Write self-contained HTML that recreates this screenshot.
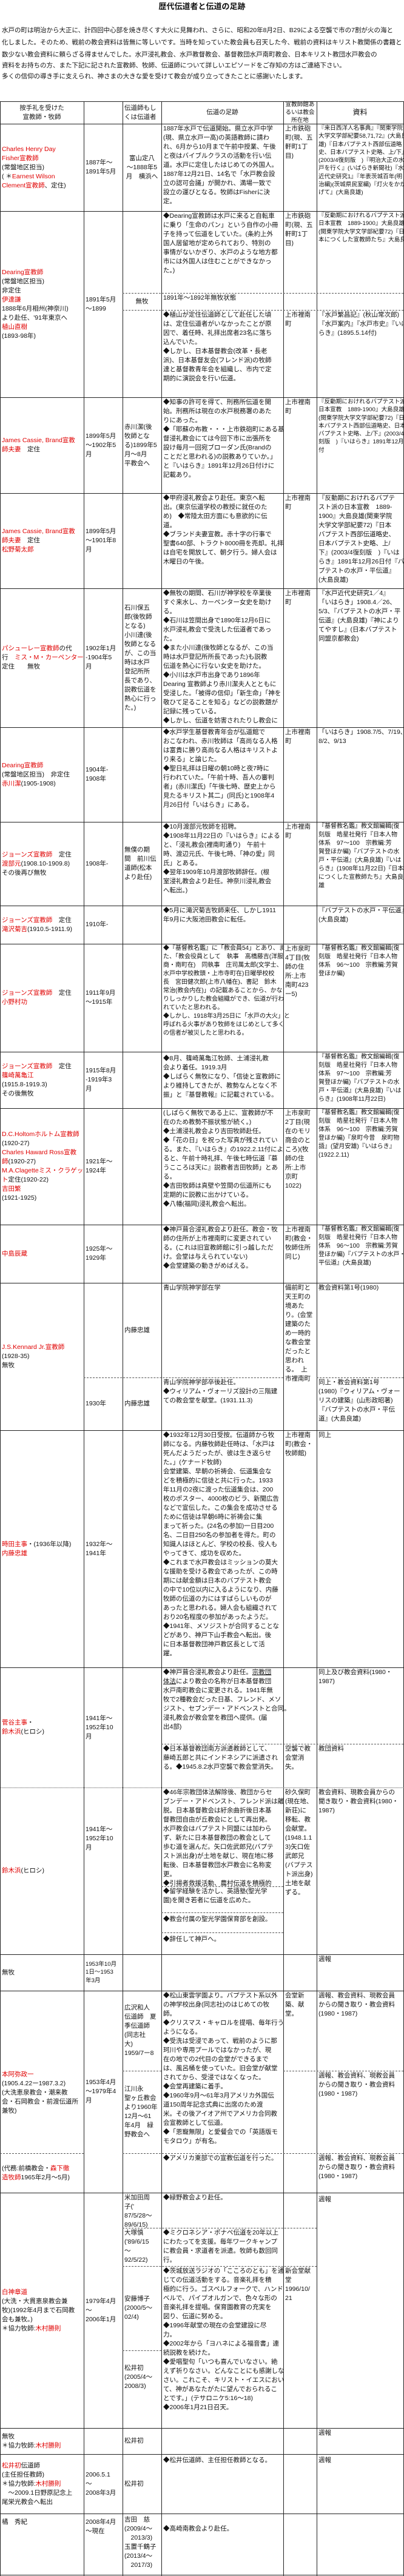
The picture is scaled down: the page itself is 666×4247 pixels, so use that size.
<!DOCTYPE html>
<html><head><meta charset="utf-8">
<style>
html,body{margin:0;padding:0;background:#fff}
body{width:666px;height:4247px;position:relative;overflow:hidden;font-family:"Liberation Sans","Noto Sans CJK JP",sans-serif;color:#111}
.c{position:absolute;display:flex;align-items:center;box-sizing:border-box;padding:1px 3px;white-space:nowrap;font-size:10.5px;line-height:15px;overflow:visible}
.c>div{width:100%}
.t{align-items:flex-start}
.s{font-size:9.6px;line-height:13.3px}
.m{font-size:10px;line-height:14px}
.k1{left:0;width:138px}.k2{left:138px;width:64px}.k3{left:202px;width:64px}.k4{left:266px;width:201px}.k5{left:467px;width:55px}.k6{left:522px;width:143px}
.r{color:#e00000}
.h{position:absolute;left:0;width:666px;height:0;border-top:1px solid #222}
.v{position:absolute;top:167px;height:4080px;width:0;border-left:1px solid #222}
.d{position:absolute;height:0;border-top:1px dashed #555}
.in{position:absolute;left:3px;font-size:10.5px;white-space:nowrap;line-height:14px}
</style></head><body>
<div style="position:absolute;left:0;width:666px;top:3px;text-align:center;font-size:13px;font-weight:bold;line-height:16px">歴代伝道者と伝道の足跡</div>
<div class="in" style="top:43px">水戸の町は明治から大正に、計四回中心部を焼き尽くす大火に見舞われ、さらに、昭和20年8月2日、B29による空襲で市の7割が火の海と</div>
<div class="in" style="top:63px">化しました。そのため、戦前の教会資料は皆無に等しいです。当時を知っていた教会員も召天した今、戦前の資料はキリスト教関係の書籍と</div>
<div class="in" style="top:83px">数少ない教会資料に頼らざる得ませんでした。水戸浸礼教会、水戸教督教会、基督教団水戸南町教会、日本キリスト教団水戸教会の</div>
<div class="in" style="top:101px">資料をお持ちの方、また下記に記された宣教師、牧師、伝道師について詳しいエピソードをご存知の方はご連絡下さい。</div>
<div class="in" style="top:119px">多くの信仰の導き手に支えられ、神さまの大きな愛を受けて教会が成り立ってきたことに感謝いたします。</div>

<!-- vertical lines -->
<div class="v" style="left:0"></div><div class="v" style="left:138px"></div><div class="v" style="left:202px"></div><div class="v" style="left:266px"></div><div class="v" style="left:467px"></div><div class="v" style="left:522px"></div><div class="v" style="left:665px"></div>
<!-- horizontal -->
<div class="h" style="top:167px"></div><div class="h" style="top:204px"></div><div class="h" style="top:348px"></div><div class="h" style="top:655px"></div><div class="h" style="top:813px"></div><div class="h" style="top:970px"></div><div class="h" style="top:1199px"></div><div class="h" style="top:1355px"></div><div class="h" style="top:1493px"></div><div class="h" style="top:1556px"></div><div class="h" style="top:1734px"></div><div class="h" style="top:1827px"></div><div class="h" style="top:2019px"></div><div class="h" style="top:2115px"></div><div class="h" style="top:2358px"></div><div class="h" style="top:2749px"></div><div class="h" style="top:2947px;border-top:1px dotted #555"></div><div class="h" style="top:3222px"></div><div class="h" style="top:3282px"></div><div class="h" style="top:3615px"></div><div class="h" style="top:4003px"></div><div class="h" style="top:4046px"></div><div class="h" style="top:4144px"></div><div class="h" style="top:4245px"></div>
<!-- dashed -->
<div class="d" style="top:483px;left:202px;width:463px"></div>
<div class="d" style="top:511px;left:202px;width:463px"></div>
<div class="d" style="top:2271px;left:138px;width:329px"></div>
<div class="d" style="top:2271px;left:522px;width:143px"></div>
<div class="d" style="top:2875px;left:266px;width:399px"></div>
<div class="d" style="top:3110px;left:266px;width:201px"></div>
<div class="d" style="top:3153px;left:266px;width:201px"></div>
<div class="d" style="top:3186px;left:266px;width:201px"></div>
<div class="d" style="top:3414px;left:202px;width:64px"></div>
<div class="d" style="top:3414px;left:467px;width:198px"></div>
<div class="d" style="top:3550px;left:0;width:138px"></div>
<div class="d" style="top:3550px;left:202px;width:463px"></div>
<div class="d" style="top:3673px;left:202px;width:320px"></div>
<div class="d" style="top:3736px;left:202px;width:320px"></div>
<div class="d" style="top:3875px;left:202px;width:64px"></div>

<!-- header -->
<div class="c k1" style="top:167px;height:37px;text-align:center"><div>按手礼を受けた<br>宣教師・牧師</div></div>
<div class="c k3" style="top:167px;height:37px"><div>伝道師もし<br>くは伝道者</div></div>
<div class="c k4" style="top:167px;height:37px;text-align:center"><div>伝道の足跡</div></div>
<div class="c k5 s" style="top:167px;height:37px;text-align:center"><div>宣教師館あ<br>るいは教会<br>所在地</div></div>
<div class="c k6" style="top:167px;height:37px;text-align:center;font-size:12px"><div>資料</div></div>

<!-- row1 -->
<div class="c k1" style="top:204px;height:144px"><div><span class="r">Charles Henry Day<br>Fisher宣教師</span><br>(常盤地区担当)<br>( ＊<span class="r">Earnest Wilson<br>Clement宣教師</span>、定住)</div></div>
<div class="c k2" style="top:204px;height:144px"><div>1887年～<br>1891年5月</div></div>
<div class="c k3" style="top:204px;height:144px;text-align:center"><div>富山定八<br>～1888年5<br>月　横浜へ</div></div>
<div class="c k4 t" style="top:204px;height:144px"><div>1887年水戸で伝道開始。県立水戸中学<br>(現、県立水戸一高)の英語教師に請わ<br>れ、6月から10月まで午前中授業、午後<br>と夜はバイブルクラスの活動を行い伝<br>道。水戸に定住したはじめての外国人。<br>1887年12月21日、14名で「水戸教会設<br>立の認可会議」が開かれ、満場一致で<br>設立の運びとなる。牧師はFisherに決<br>定。</div></div>
<div class="c k5 t" style="top:204px;height:144px"><div>上市鉄砲<br>町(現、五<br>軒町1丁<br>目)</div></div>
<div class="c k6 t s" style="top:204px;height:144px"><div>『来日西洋人名事典』『関東学院<br>大学文学部紀要58,71,72』(大島良<br>雄)『日本バプテスト西部伝道略<br>史、日本バプテスト史略、上/下』<br>(2003/4復刻版　)『明治大正の水<br>戸を行く』(いばらき新聞社)『水戸<br>近代史研究1』『年表茨城百年(明<br>治編)(茨城県民室編)『灯火をかか<br>げて』(大島良雄)</div></div>

<!-- row2 -->
<div class="c k1" style="top:348px;height:307px"><div><span class="r">Dearing宣教師</span><br>(常盤地区担当)<br>非定住<br><span class="r">伊達謙</span><br>1888年6月相州(神奈川)<br>より赴任、'91年東京へ<br><span class="r">植山直樹</span><br>(1893-98年)</div></div>
<div class="c k2" style="top:348px;height:307px"><div>1891年5月<br>～1899</div></div>
<div class="c k4 t" style="top:348px;height:135px"><div>◆Dearing宣教師は水戸に来ると自転車<br>に乗り「生命のパン」という自作の小冊<br>子を持って伝道をしていた。(条約上外<br>国人居留地が定められており、特別の<br>事情がないかぎり、水戸のような地方都<br>市には外国人は住むことができなかっ<br>た。)</div></div>
<div class="c k5 t" style="top:348px;height:135px"><div>上市鉄砲<br>町(現、五<br>軒町1丁<br>目)</div></div>
<div class="c k6 t s" style="top:348px;height:135px"><div>『反動期におけれるバプテスト派の<br>日本宣教　1889-1900』大島良雄<br>(関東学院大学文学部紀要72)『日<br>本につくした宣教師たち』大島良雄</div></div>
<div class="c k3" style="top:483px;height:28px;text-align:center"><div>無牧</div></div>
<div class="c k4 t" style="top:483px;height:28px"><div>1891年～1892年無牧状態</div></div>
<div class="c k4 t" style="top:511px;height:144px"><div>◆植山が定住伝道師として赴任した頃<br>は、定住伝道者がいなかったことが原<br>因で、着任時、礼拝出席者23名に落ち<br>込んでいた。<br>◆しかし、日本基督教会(改革・長老<br>派)、日本基督友会(フレンド派)の牧師<br>達と基督教青年会を組織し、市内で定<br>期的に演説会を行い伝道。</div></div>
<div class="c k5 t" style="top:511px;height:144px"><div>上市裡南<br>町</div></div>
<div class="c k6 t" style="top:511px;height:144px"><div>『水戸繁昌記』(秋山常次郎)<br>『水戸案内』『水戸市史』『いば<br>らき』(1895.5.14付)</div></div>

<!-- row3 -->
<div class="c k1" style="top:655px;height:158px"><div><span class="r">James Cassie, Brand宣教<br>師夫妻</span>　定住</div></div>
<div class="c k2" style="top:655px;height:158px"><div>1899年5月<br>～1902年5<br>月</div></div>
<div class="c k3" style="top:655px;height:158px"><div>赤川潔(後<br>牧師とな<br>る)1899年5<br>月～8月<br>平教会へ</div></div>
<div class="c k4 t" style="top:655px;height:158px"><div>◆知事の許可を得て、刑務所伝道を開<br>始。刑務所は現在の水戸税務署のあた<br>りにあった。<br>◆「耶蘇の布教・・・上市鉄砲町にある基<br>督浸礼教会にては今回下市に出張所を<br>設け毎月一回宛ブローダン氏(Brandの<br>ことだと思われる)の説教ありていか。」<br>と『いはらき』1891年12月26日付けに<br>記載あり。</div></div>
<div class="c k5 t" style="top:655px;height:158px"><div>上市裡南<br>町</div></div>
<div class="c k6 t s" style="top:655px;height:158px"><div>『反動期におけれるバプテスト派の<br>日本宣教　1889-1900』大島良雄<br>(関東学院大学文学部紀要72)『日<br>本バプテスト西部伝道略史、日本<br>バプテスト史略、上/下』(2003/4復<br>刻版　)『いはらき』1891年12月26日<br>付</div></div>

<!-- row4 -->
<div class="c k1" style="top:813px;height:157px"><div><span class="r">James Cassie, Brand宣教<br>師夫妻</span>　定住<br><span class="r">松野菊太郎</span></div></div>
<div class="c k2" style="top:813px;height:157px"><div>1899年5月<br>～1901年8<br>月</div></div>
<div class="c k4 t" style="top:813px;height:157px"><div>◆甲府浸礼教会より赴任。東京へ転<br>出。(東京伝道学校の教授に就任のた<br>め)　◆常陸太田方面にも意欲的に伝<br>道。<br>◆ブランド夫妻宣教。赤十字の行事で<br>聖書640部、トラクト8000冊を売却。礼拝<br>は自宅を開放して、朝夕行う。婦人会は<br>木曜日の午後。</div></div>
<div class="c k5 t" style="top:813px;height:157px"><div>上市裡南<br>町</div></div>
<div class="c k6 t" style="top:813px;height:157px"><div>『反動期におけれるバプテ<br>スト派の日本宣教　1889-<br>1900』大島良雄(関東学院<br>大学文学部紀要72)『日本<br>バプテスト西部伝道略史、<br>日本バプテスト史略、上/<br>下』(2003/4復刻版　)『いは<br>らき』1891年12月26日付『バ<br>プテストの水戸・平伝道』<br>(大島良雄)</div></div>

<!-- row5 -->
<div class="c k1" style="top:970px;height:229px"><div><span class="r">パシューレー宣教師</span>の代<br>行　<span class="r">ミス・M・カーペンター</span><br>定住　　無牧</div></div>
<div class="c k2" style="top:970px;height:229px"><div>1902年1月<br>-1904年5<br>月</div></div>
<div class="c k3" style="top:970px;height:229px"><div>石川保五<br>郎(後牧師<br>となる)<br>小川達(後<br>牧師となる<br>が、この当<br>時は水戸<br>登記所所<br>長であり、<br>説教伝道を<br>熱心に行っ<br>た。)</div></div>
<div class="c k4 t" style="top:970px;height:229px"><div>◆無牧の期間、石川が神学校を卒業後<br>すぐ来水し、カーペンター女史を助け<br>る。<br>◆石川は笠間出身で1890年12月6日に<br>水戸浸礼教会で受洗した伝道者であっ<br>た。<br>◆また小川達(後牧師となるが、この当<br>時は水戸登記所所長であった)も説教<br>伝道を熱心に行ない女史を助けた。<br>◆小川は水戸市出身であり1896年<br>Dearing 宣教師より赤川潔夫人とともに<br>受浸した。「被得の信仰」「新生命」「神を<br>敬ひて足ることを知る」などの説教題が<br>記録に残っている。<br>◆しかし、伝道を妨害されたりし教会に</div></div>
<div class="c k5 t" style="top:970px;height:229px"><div>上市裡南<br>町</div></div>
<div class="c k6 t" style="top:970px;height:229px"><div>『水戸近代史研究1／4』<br>「いはらき」1908.4／26、<br>5/3、『バプテストの水戸・平<br>伝道』(大島良雄)『神により<br>てやすし』(日本バプテスト<br>同盟京都教会)</div></div>

<!-- row6 -->
<div class="c k1" style="top:1199px;height:156px"><div><span class="r">Dearing宣教師</span><br>(常盤地区担当)　非定住<br><span class="r">赤川潔</span>(1905-1908)</div></div>
<div class="c k2" style="top:1199px;height:156px"><div>1904年-<br>1908年</div></div>
<div class="c k4 t" style="top:1199px;height:156px"><div>◆水戸学生基督教青年会が弘道館で<br>おこなわれ、赤川牧師は「高尚なる人格<br>は富貴に勝り高尚なる人格はキリストよ<br>り来る」と論じた。<br>◆聖日礼拝は日曜の朝10時と夜7時に<br>行われていた。「午前十時、吾人の審判<br>者」(赤川潔氏)「午後七時、歴史上から<br>見たるキリスト其二」(同氏)と1908年4<br>月26日付「いはらき」にある。</div></div>
<div class="c k5 t" style="top:1199px;height:156px"><div>上市裡南<br>町</div></div>
<div class="c k6 t" style="top:1199px;height:156px"><div>「いはらき」1908.7/5、7/19、<br>8/2、9/13</div></div>

<!-- row7 -->
<div class="c k1" style="top:1355px;height:138px"><div><span class="r">ジョーンズ宣教師</span>　定住<br><span class="r">渡部元</span>(1908.10-1909.8)<br>その後再び無牧</div></div>
<div class="c k2" style="top:1355px;height:138px"><div>1908年-</div></div>
<div class="c k3" style="top:1355px;height:138px"><div>無僕の期<br>間　前川伝<br>道師(松本<br>より赴任)</div></div>
<div class="c k4 t" style="top:1355px;height:138px"><div>◆10月渡部元牧師を招聘。<br>◆1908年11月22日の『いはらき』による<br>と、「浸礼教会(裡南町通り)　午前十<br>時、渡辺元氏、午後七時、「神の愛」同<br>氏」とある。<br>◆翌年1909年10月渡部牧師辞任。(根<br>室浸礼教会より赴任。神奈川浸礼教会<br>へ転出。)</div></div>
<div class="c k5 t" style="top:1355px;height:138px"><div>上市裡南<br>町</div></div>
<div class="c k6 t m" style="top:1355px;height:138px"><div>『基督教名鑑』教文館編輯(復<br>刻版　皓星社発行『日本人物<br>体系　97～100　宗教編:芳<br>賀登ほか編)『バプテストの水<br>戸・平伝道』(大島良雄)『いは<br>らき』(1908年11月22日)『日本<br>につくした宣教師たち』大島良<br>雄</div></div>

<!-- row8 -->
<div class="c k1" style="top:1493px;height:63px"><div><span class="r">ジョーンズ宣教師</span>　定住<br><span class="r">滝沢菊吉</span>(1910.5-1911.9)</div></div>
<div class="c k2" style="top:1493px;height:63px"><div>1910年-</div></div>
<div class="c k4 t" style="top:1493px;height:63px"><div>◆5月に滝沢菊吉牧師来任、しかし1911<br>年9月に大阪池田教会に転任。</div></div>
<div class="c k6 t" style="top:1493px;height:63px"><div>『バプテストの水戸・平伝道』<br>(大島良雄)</div></div>

<!-- row9 -->
<div class="c k1" style="top:1556px;height:178px"><div><span class="r">ジョーンズ宣教師</span>　定住<br><span class="r">小野村功</span></div></div>
<div class="c k2" style="top:1556px;height:178px"><div>1911年9月<br>～1915年</div></div>
<div class="c k4 t m" style="top:1556px;height:178px"><div>◆『基督教名鑑』に「教会員54」とあり、ま<br>た、「教会役員として　執事　高橋藤吉(洋服<br>商・南町在)　同執事　庄司萬太郎(文学士、<br>水戸中学校教頭・上市寺町在)日曜學校校<br>長　宮田健次郎(上市八幡在)、書記　鈴木<br>常治(教会内在)」の記載あることから、かな<br>りしっかりした教会組織ができ、伝道が行わ<br>れていたと思われる。<br>◆しかし、1918年3月25日に「水戸の大火」と<br>呼ばれる火事があり牧師をはじめとして多く<br>の信者が被災したと思われる。</div></div>
<div class="c k5 t" style="top:1556px;height:178px"><div>上市泉町<br>4丁目(牧<br>師の住<br>所:上市<br>南町423<br>ー5)</div></div>
<div class="c k6 t m" style="top:1556px;height:178px"><div>『基督教名鑑』教文館編輯(復<br>刻版　皓星社発行『日本人物<br>体系　96～100　宗教編:芳賀<br>登ほか編)</div></div>

<!-- row10 -->
<div class="c k1" style="top:1734px;height:93px"><div><span class="r">ジョーンズ宣教師</span>　定住<br><span class="r">篠崎萬亀江</span><br>(1915.8-1919.3)<br>その後無牧</div></div>
<div class="c k2" style="top:1734px;height:93px"><div>1915年8月<br>-1919年3<br>月</div></div>
<div class="c k4 t" style="top:1734px;height:93px;padding-top:4px"><div>◆8月、篠崎萬亀江牧師、土浦浸礼教<br>会より着任。1919.3月<br>◆しばらく無牧になり、「信徒と宣教師に<br>より維持してきたが、教勢なんとなく不<br>振」と『基督教報』に記載されている。</div></div>
<div class="c k6 t m" style="top:1734px;height:93px;padding-top:2px"><div>『基督教名鑑』教文館編輯(復<br>刻版　皓星社発行『日本人物<br>体系　97～100　宗教編:芳<br>賀登ほか編)『バプテストの水<br>戸・平伝道』(大島良雄)『いは<br>らき』(1908年11月22日)</div></div>

<!-- row11 -->
<div class="c k1" style="top:1827px;height:192px"><div><span class="r">D.C.Holtomホルトム宣教師</span><br>(1920-27)<br><span class="r">Charles Haward Ross宣教<br>師</span>(1920-27)<br><span class="r">M.A.Clagetteミス・クラゲッ<br>ト</span>定住(1920-22)<br><span class="r">吉田繁</span><br>(1921-1925)</div></div>
<div class="c k2" style="top:1827px;height:192px"><div>1921年～<br>1924年</div></div>
<div class="c k4 t" style="top:1827px;height:192px"><div>(しばらく無牧である上に、宣教師が不<br>在のため教勢不振状態が続く。)<br>◆土浦浸礼教会より吉田牧師赴任。<br>◆「花の日」を祝った写真が残されてい<br>る。また、『いはらき』の1922.2.11付によ<br>ると、午前十時礼拝、午後七時伝道『慕<br>うこころは天に』説教者吉田牧師」とあ<br>る。<br>◆吉田牧師は真壁や笠間の伝道所にも<br>定期的に説教に出かけている。<br>◆八幡(福岡)浸礼教会へ転出。</div></div>
<div class="c k5 t" style="top:1827px;height:192px"><div>上市泉町<br>2丁目(現<br>在のモリ<br>商会のと<br>ころ)(牧<br>師の住<br>所:上市<br>京町<br>1022)</div></div>
<div class="c k6 t m" style="top:1827px;height:192px"><div>『基督教名鑑』教文館編輯(復<br>刻版　皓星社発行『日本人物<br>体系　96～100　宗教編:芳賀<br>登ほか編)『泉町今昔　泉町物<br>語』(望月安雄)『いはらき』<br>(1922.2.11)</div></div>

<!-- row12 -->
<div class="c k1" style="top:2019px;height:96px"><div><span class="r">中島辰蔵</span></div></div>
<div class="c k2" style="top:2019px;height:96px"><div>1925年～<br>1929年</div></div>
<div class="c k4 t" style="top:2019px;height:96px"><div>◆神戸葺合浸礼教会より赴任。教会・牧<br>師の住所が上市裡南町に変更されてい<br>る。(これは旧宣教師館に引っ越しただ<br>け。会堂は与えられていない)<br>◆会堂建築の動きがめばえる。</div></div>
<div class="c k5 t" style="top:2019px;height:96px"><div>上市裡南<br>町(教会・<br>牧師住所<br>同じ)</div></div>
<div class="c k6 t m" style="top:2019px;height:96px"><div>『基督教名鑑』教文館編輯(復<br>刻版　皓星社発行『日本人物<br>体系　96～100　宗教編:芳賀<br>登ほか編)『バプテストの水戸・<br>平伝道』(大島良雄)</div></div>

<!-- row13 -->
<div class="c k1" style="top:2115px;height:243px"><div><span class="r">J.S.Kennard Jr.宣教師</span><br>(1928-35)<br>無牧</div></div>
<div class="c k3" style="top:2115px;height:156px"><div>内藤忠雄</div></div>
<div class="c k4 t" style="top:2115px;height:156px"><div>青山学院神学部在学</div></div>
<div class="c k5 t" style="top:2115px;height:243px"><div>備前町と<br>天王町の<br>境あた<br>り。(会堂<br>建築のた<br>め一時的<br>な教会堂<br>だったと<br>思われ<br>る。　上<br>市裡南町</div></div>
<div class="c k6 t" style="top:2115px;height:156px"><div>教会資料第1号(1980)</div></div>
<div class="c k2" style="top:2271px;height:87px"><div>1930年</div></div>
<div class="c k3" style="top:2271px;height:87px"><div>内藤忠雄</div></div>
<div class="c k4 t" style="top:2271px;height:87px"><div>青山学院神学部卒後赴任。<br>◆ウィリアム・ヴォーリズ設計の三階建<br>ての教会堂を献堂。(1931.11.3)</div></div>
<div class="c k6 t" style="top:2271px;height:87px"><div>同上・教会資料第1号<br>(1980)『ウィリアム・ヴォー<br>リスの建築』(山形政昭著)<br>『バプテストの水戸・平伝<br>道』(大島良雄)</div></div>

<!-- row14 -->
<div class="c k1" style="top:2358px;height:391px"><div><span class="r">時田主事</span>・(1936年以降)<br><span class="r">内藤忠雄</span></div></div>
<div class="c k2" style="top:2358px;height:391px"><div>1932年～<br>1941年</div></div>
<div class="c k4 t" style="top:2358px;height:391px"><div>◆1932年12月30日受按。伝道師から牧<br>師になる。内藤牧師赴任時は、「水戸は<br>死んだようだったが、彼は生き返らせ<br>た。」(ケナード牧師)<br>会堂建築、早朝の祈祷会、伝道集会な<br>どを積極的に信徒と共に行った。1933<br>年11月の2夜に渡った伝道集会は、200<br>枚のポスター、4000枚のビラ、新聞広告<br>などで宣伝した。この集会を成功させる<br>ために信徒は早朝6時に祈祷会に集<br>まって祈った。(24名の参加)一日目200<br>名、二日目250名の参加者を得た。町の<br>知識人はほとんど、学校の校長、役人も<br>やってきて、成功を収めた。<br>◆これまで水戸教会はミッションの莫大<br>な援助を受ける教会であったが、この時<br>期には献金額は日本のバプテスト教会<br>の中で10位以内に入るようになり、内藤<br>牧師の伝道の力にはすばらしいものが<br>あったと思われる。婦人会も組織されて<br>おり20名程度の参加があったようだ。<br>◆1941年、メソジストが合同することな<br>どがあり、神戸下山手教会へ転出。後<br>に日本基督教団神戸教区長として活<br>躍。</div></div>
<div class="c k5 t" style="top:2358px;height:391px"><div>上市裡南<br>町(教会・<br>牧師館)</div></div>
<div class="c k6 t" style="top:2358px;height:391px"><div>同上</div></div>

<!-- row15 -->
<div class="c k1" style="top:2749px;height:198px"><div><span class="r">菅谷主事</span>・<br><span class="r">鈴木浜</span>(ヒロシ)</div></div>
<div class="c k2" style="top:2749px;height:198px"><div>1941年～<br>1952年10<br>月</div></div>
<div class="c k4 t" style="top:2749px;height:126px"><div>◆神戸葺合浸礼教会より赴任。<u>宗教団<br>体法</u>により教会の名称が日本基督教団<br>水戸南町教会に変更される。1941年無<br>牧で2種教会だった日基、フレンド、メソ<br>ジスト、セブンデー・アドベンストと合同。<br>浸礼教会が教会堂を教団へ提供。(届<br>出4部)</div></div>
<div class="c k6 t" style="top:2749px;height:126px"><div>同上及び教会資料(1980・<br>1987)</div></div>
<div class="c k4 t" style="top:2875px;height:72px"><div>◆日本基督教団南方派遣教師として、<br>藤崎五郎と共にインドネシアに派遣され<br>る。◆1945.8.2水戸空襲で教会堂消失。</div></div>
<div class="c k5 t" style="top:2875px;height:72px"><div>空襲で教<br>会堂消<br>失。</div></div>
<div class="c k6 t" style="top:2875px;height:72px"><div>教団資料</div></div>

<!-- row16 -->
<div class="c k1" style="top:2947px;height:275px"><div><span class="r">鈴木浜</span>(ヒロシ)</div></div>
<div class="c k2 t" style="top:2947px;height:275px;padding-top:62px"><div>1941年～<br>1952年10<br>月</div></div>
<div class="c k4 t" style="top:2947px;height:163px"><div>◆46年宗教団体法解除後、教団からセ<br>ブンデー・アドベンスト、フレンド派は離<br>脱。日本基督教会は紆余曲折後日本基<br>督教団自由が丘教会にとして再出発。<br>水戸教会はバプテスト同盟には加わら<br>ず、新たに日本基督教団の教会として<br>歩む道を選んだ。矢口佐武郎兄(バプテ<br>スト派出身)が土地を献じ、現在地に移<br>転後、日本基督教団水戸教会に名称変<br>更。<br>◆引揚者救援活動、農村伝道を積極的</div></div>
<div class="c k4 t" style="top:3110px;height:43px"><div>◆留学経験を活かし、英語塾(聖光学<br>園)を開き若者に伝道を広めた。</div></div>
<div class="c k4 t" style="top:3153px;height:33px;padding-top:4px"><div>◆教会付属の聖光学園保育部を創設。</div></div>
<div class="c k4 t" style="top:3186px;height:36px;padding-top:4px"><div>◆辞任して神戸へ。</div></div>
<div class="c k5 t" style="top:2947px;height:275px"><div>砂久保町<br>(現在地、<br>新荘)に<br>移転、教<br>会献堂。<br>(1948.1.1<br>3)矢口佐<br>武郎兄<br>(バプテス<br>ト派出身)<br>土地を献<br>ずる。</div></div>
<div class="c k6 t" style="top:2947px;height:275px"><div>教会資料、現教会員からの<br>聞き取り・教会資料(1980・<br>1987)</div></div>

<!-- row17 -->
<div class="c k1" style="top:3222px;height:60px"><div>無牧</div></div>
<div class="c k2 s" style="top:3222px;height:60px"><div>1953年10月<br>1日～1953<br>年3月</div></div>
<div class="c k6 t" style="top:3222px;height:60px"><div>週報</div></div>

<!-- row18 -->
<div class="c k1" style="top:3282px;height:268px;padding-top:70px"><div><span class="r">本阿弥政一</span><br>(1905.4.22ー1987.3.2)<br>(大洗恵泉教会・潮来教<br>会・石岡教会・前渡伝道所<br>兼牧)</div></div>
<div class="c k1" style="top:3550px;height:65px"><div>(代務:前橋教会・<span class="r">森下徹<br>造牧師</span>1965年2月～5月)</div></div>
<div class="c k2" style="top:3282px;height:333px"><div>1953年4月<br>～1979年4<br>月</div></div>
<div class="c k3" style="top:3282px;height:132px"><div>広沢和人<br>伝道師　夏<br>季伝道師<br>(同志社<br>大)<br>1959/7ー8</div></div>
<div class="c k3" style="top:3414px;height:136px"><div>江川永<br>聖ヶ丘教会<br>より1960年<br>12月～61<br>年4月　緑<br>野教会へ</div></div>
<div class="c k4 t" style="top:3282px;height:268px"><div>◆松山東雲学園より。バプテスト系以外<br>の神学校出身(同志社)のはじめての牧<br>師。<br>◆クリスマス・キャロルを提唱、毎年行う<br>ようになる。<br>◆受洗は受浸であって、戦前のように那<br>珂川や専用プールではなかったが、現<br>在の地での2代目の会堂ができるまで<br>は、風呂桶を使っていた。旧会堂が献堂<br>されてから、受浸ではなくなった。<br>◆会堂再建築に着手。<br>◆1960年9月～61年3月アメリカ外国伝<br>道150周年記念式典に出席のため渡<br>米。その後アイオア州でアメリカ合同教<br>会宣教師として伝道。<br>◆「恩寵無限」と愛餐会での「英語版モ<br>モタロウ」が有名。</div></div>
<div class="c k4 t" style="top:3550px;height:65px"><div>◆アメリカ東部での宣教伝道を行った。</div></div>
<div class="c k5 t" style="top:3282px;height:132px"><div>会堂新<br>築、献<br>堂。</div></div>
<div class="c k6 t" style="top:3282px;height:132px"><div>週報、教会資料、現教会員<br>からの聞き取り・教会資料<br>(1980・1987)</div></div>
<div class="c k6 t" style="top:3414px;height:136px"><div>週報、教会資料、現教会員<br>からの聞き取り・教会資料<br>(1980・1987)</div></div>
<div class="c k6 t" style="top:3550px;height:65px"><div>週報、教会資料、現教会員<br>からの聞き取り・教会資料<br>(1980・1987)</div></div>

<!-- row19 -->
<div class="c k1" style="top:3615px;height:388px"><div><span class="r">白神章道</span><br>(大洗・大貫恵泉教会兼<br>牧)(1992年4月まで石岡教<br>会も兼牧。)<br>＊協力牧師:<span class="r">木村勝則</span></div></div>
<div class="c k2" style="top:3615px;height:388px"><div>1979年4月<br>～<br>2006年1月</div></div>
<div class="c k3 t" style="top:3615px;height:58px"><div>米加田周<br>子('<br>87/5/28～<br>89/6/15)</div></div>
<div class="c k3 t" style="top:3673px;height:63px"><div>大塚慎<br>('89/6/15<br>～<br>92/5/22)</div></div>
<div class="c k3" style="top:3736px;height:139px"><div>安藤博子<br>(2000/5～<br>02/4)</div></div>
<div class="c k3" style="top:3875px;height:128px;padding-bottom:40px"><div>松井初<br>(2005/4～<br>2008/3)</div></div>
<div class="c k4 t" style="top:3615px;height:58px"><div>◆緑野教会より赴任。</div></div>
<div class="c k4 t" style="top:3673px;height:63px"><div>◆ミクロネシア・ポナペ伝道を20年以上<br>にわたってを支援。毎年ワークキャンプ<br>に教会員・求道者を派遣。牧師も数回同<br>行。</div></div>
<div class="c k4 t" style="top:3736px;height:267px"><div>◆茨城放送ラジオの「こころのとも」を通<br>じての伝道活動をする。音楽礼拝を積<br>極的に行う。ゴスペルフォークで、ハンド<br>ベルで、パイプオルガンで、色々な形の<br>音楽礼拝を提唱。保育園教育の充実を<br>図り、伝道に努める。<br>◆1996年献堂の現在の会堂建設に尽<br>力。<br>◆2002年から「ヨハネによる福音書」連<br>続説教を続けた。<br>◆愛唱聖句「いつも喜んでいなさい。絶<br>えず祈りなさい。どんなことにも感謝しな<br>さい。これこそ、キリスト・イエスにおい<br>て、神があなたがたに望んでおられるこ<br>とです。」(テサロニケ5:16～18)<br>◆2006年1月21日召天。</div></div>
<div class="c k5 t" style="top:3736px;height:267px"><div>新会堂献<br>堂<br>1996/10/<br>21</div></div>
<div class="c k6 t" style="top:3615px;height:388px;padding-top:4px"><div>週報</div></div>

<!-- row20 -->
<div class="c k1" style="top:4003px;height:43px"><div>無牧<br>＊協力牧師:<span class="r">木村勝則</span></div></div>
<div class="c k3" style="top:4003px;height:43px"><div>松井初</div></div>
<div class="c k6 t" style="top:4003px;height:43px"><div>週報</div></div>

<!-- row21 -->
<div class="c k1" style="top:4046px;height:98px"><div><span class="r">松井初</span>伝道師<br>(主任担任教師)<br>＊協力牧師:<span class="r">木村勝則</span><br>　～2009.1日野原記念上<br>尾栄光教会へ転出</div></div>
<div class="c k2" style="top:4046px;height:98px"><div>2006.5.1<br>～<br>2008年3月</div></div>
<div class="c k3" style="top:4046px;height:98px"><div>松井初</div></div>
<div class="c k4 t" style="top:4046px;height:98px;padding-top:3px"><div>◆松井伝道師、主任担任教師となる。</div></div>
<div class="c k6 t" style="top:4046px;height:98px;padding-top:3px"><div>週報</div></div>

<!-- row22 -->
<div class="c k1 t" style="top:4144px;height:101px;padding-top:7px"><div>橘　秀紀</div></div>
<div class="c k2 t" style="top:4144px;height:101px;padding-top:7px"><div>2008年4月<br>～現在</div></div>
<div class="c k3 t" style="top:4144px;height:101px;padding-top:3px"><div>吉田　慈<br>(2009/4～<br>　2013/3)<br>玉置千鶴子<br>(2013/4～<br>　2017/3)</div></div>
<div class="c k4 t" style="top:4144px;height:101px;padding-top:18px"><div>◆高崎南教会より赴任。</div></div>
</body></html>
